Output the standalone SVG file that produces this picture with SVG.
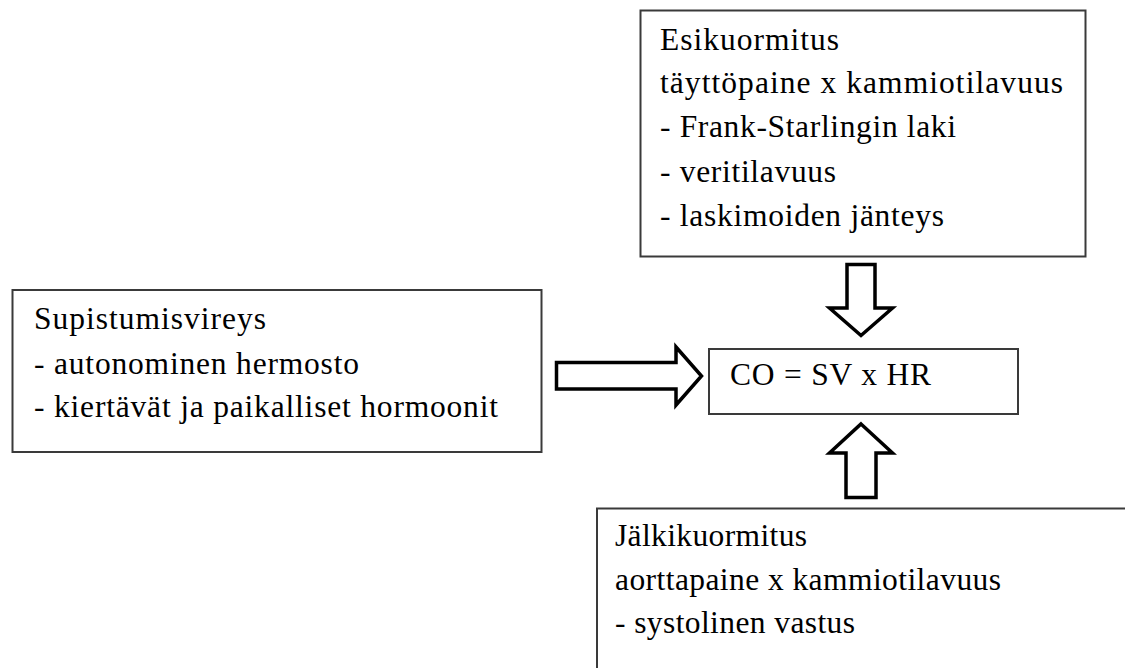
<svg xmlns="http://www.w3.org/2000/svg" width="1125" height="668" viewBox="0 0 1125 668">
<style>
.box{fill:#fff;stroke:#3a3a3a;stroke-width:2}
.arrow{fill:#fff;stroke:#000;stroke-width:3.5;stroke-linejoin:miter}
text{font-family:"Liberation Serif","Times New Roman",serif;font-size:31.5px;fill:#000}
</style>
<rect x="0" y="0" width="1125" height="668" fill="#fff"/>
<g id="esikuormitus">
<rect class="box" x="640.5" y="10.5" width="445" height="246"/>
<text x="660" y="50" textLength="179" lengthAdjust="spacing">Esikuormitus</text>
<text x="660" y="93" textLength="403" lengthAdjust="spacing">täyttöpaine x kammiotilavuus</text>
<text x="660" y="137" textLength="296" lengthAdjust="spacing">- Frank-Starlingin laki</text>
<text x="660" y="182" textLength="176" lengthAdjust="spacing">- veritilavuus</text>
<text x="660" y="226" textLength="284" lengthAdjust="spacing">- laskimoiden jänteys</text>
</g>
<g id="supistumisvireys">
<rect class="box" x="12.5" y="290" width="529" height="162"/>
<text x="34" y="329" textLength="232" lengthAdjust="spacing">Supistumisvireys</text>
<text x="34" y="374" textLength="325" lengthAdjust="spacing">- autonominen hermosto</text>
<text x="34" y="417" textLength="464" lengthAdjust="spacing">- kiertävät ja paikalliset hormoonit</text>
</g>
<g id="co">
<rect class="box" x="709" y="349" width="309" height="65"/>
<text x="730" y="385" textLength="201" lengthAdjust="spacing">CO = SV x HR</text>
</g>
<g id="jalkikuormitus">
<rect class="box" x="597" y="508.5" width="560" height="200"/>
<text x="615" y="546" textLength="192" lengthAdjust="spacing">Jälkikuormitus</text>
<text x="615" y="590" textLength="386" lengthAdjust="spacing">aorttapaine x kammiotilavuus</text>
<text x="615" y="633" textLength="240" lengthAdjust="spacing">- systolinen vastus</text>
</g>
<g id="connectors">
<path class="arrow" d="M847,264.5 L875,264.5 L875,308 L892.5,308 L861,335.5 L829.5,308 L847,308 Z"/>
<path class="arrow" d="M861,424 L892.5,453 L876,453 L876,497.5 L846,497.5 L846,453 L829.5,453 Z"/>
<path class="arrow" d="M556.5,362.5 L676,362.5 L676,347 L701.5,376 L676,405 L676,389 L556.5,389 Z"/>
</g>
</svg>
